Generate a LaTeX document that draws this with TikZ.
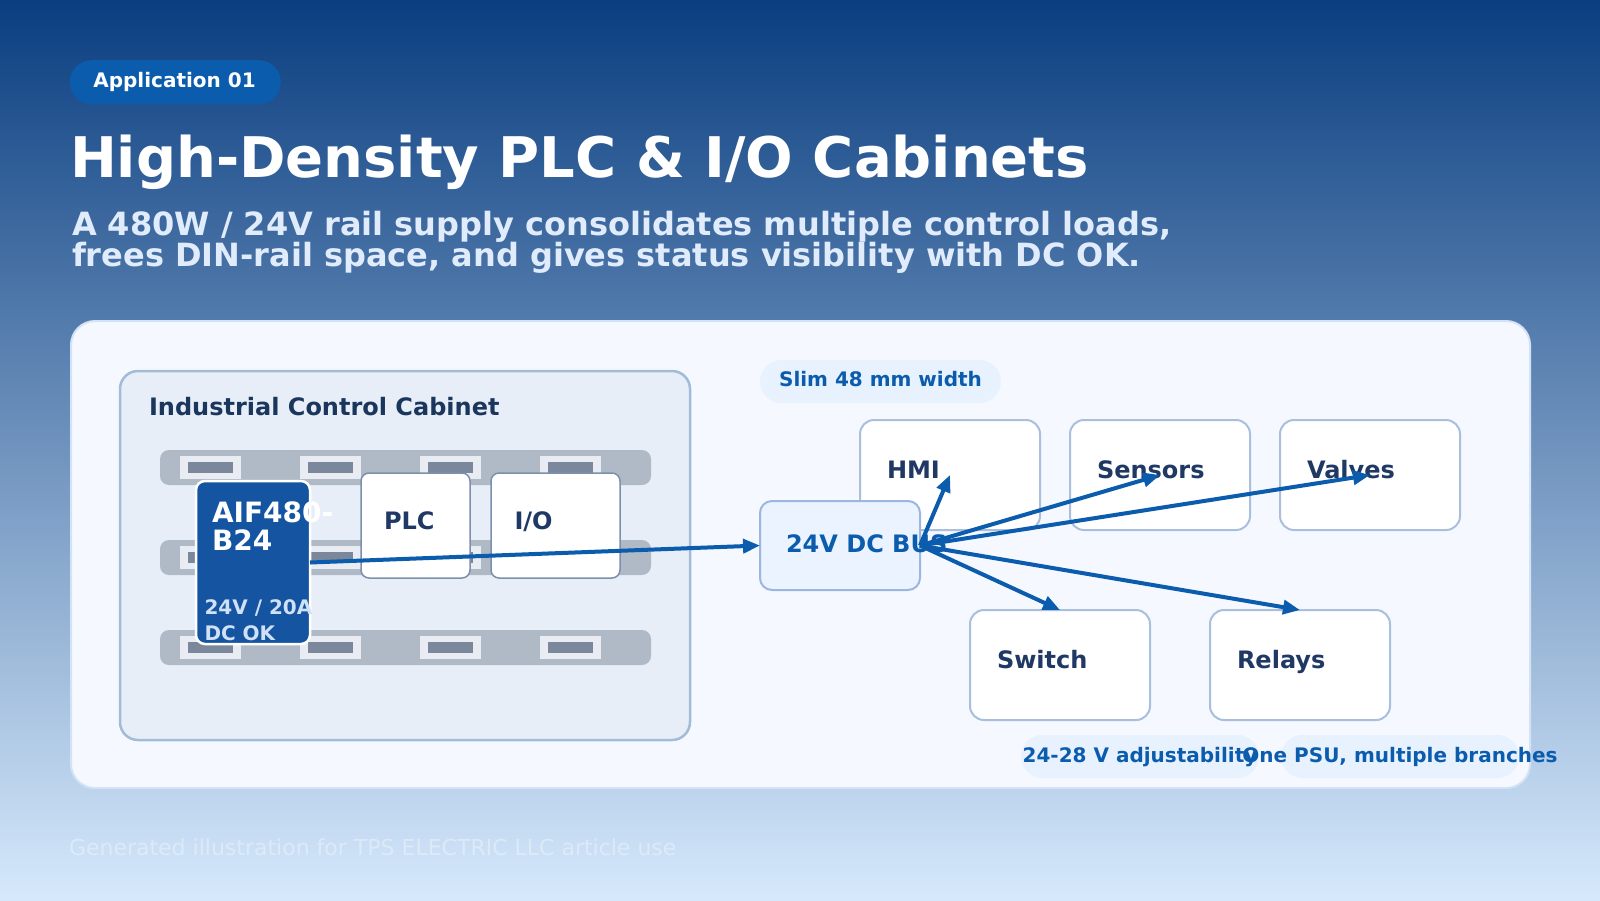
\documentclass[tikz,border=0pt]{standalone}
\usepackage{fontspec}
\setmainfont{DejaVu Sans}
\usetikzlibrary{arrows.meta}
\definecolor{bgtop}{HTML}{0A3E80}
\definecolor{bgbot}{HTML}{D6E9FC}
\definecolor{accent}{HTML}{0B5CAD}
\definecolor{navy}{HTML}{1F3864}
\definecolor{cabnavy}{HTML}{1B365D}
\definecolor{subtxt}{HTML}{E0ECFB}
\definecolor{panelfill}{HTML}{F5F9FF}
\definecolor{panelline}{HTML}{D3E2F5}
\definecolor{cabfill}{HTML}{E7EEF8}
\definecolor{cabline}{HTML}{A2BBD8}
\definecolor{railfill}{HTML}{B0BAC6}
\definecolor{slotout}{HTML}{E9EDF3}
\definecolor{slotin}{HTML}{7B879B}
\definecolor{psufill}{HTML}{1454A0}
\definecolor{psulight}{HTML}{CFE0F7}
\definecolor{modline}{HTML}{7D8FAE}
\definecolor{loadline}{HTML}{A9BFDD}
\definecolor{busfill}{HTML}{EAF3FF}
\definecolor{busline}{HTML}{9BB7DF}
\definecolor{pillfill}{HTML}{E8F1FE}
\begin{document}
\begin{tikzpicture}[x=1pt,y=-1pt,
  every node/.style={inner sep=0pt, outer sep=0pt},
  txt/.style={anchor=base west},
  boxlabel/.style={anchor=base west, text=navy, font=\fontsize{24}{28}\selectfont\bfseries},
  rail/.style={fill=railfill, rounded corners=9pt, minimum width=491pt, minimum height=35pt},
  slotouter/.style={fill=slotout, minimum width=61pt, minimum height=23pt},
  slotinner/.style={fill=slotin, minimum width=45pt, minimum height=11pt},
  module/.style={fill=white, draw=modline, line width=1.5pt, rounded corners=8pt, minimum height=105pt},
  load/.style={fill=white, draw=loadline, line width=2pt, rounded corners=14pt, minimum width=180pt, minimum height=110pt},
  tagpill/.style={fill=pillfill, rounded corners=21.5pt, minimum height=43pt},
  pilltext/.style={anchor=base, text=accent, font=\fontsize{20}{24}\selectfont\bfseries},
  feed/.style={draw=accent, line width=4pt, -{Triangle[length=17pt,width=14pt]}}
]
\useasboundingbox (0,0) rectangle (1600,900);
\shade[top color=bgtop, bottom color=bgbot] (0,0) rectangle (1600,900);

% header
\node[fill=accent, rounded corners=22pt, minimum width=211pt, minimum height=44pt] (apppill) at (175.3,82.2) {};
\node[anchor=base, text=white, font=\fontsize{20}{24}\selectfont\bfseries] (apptext) at (174.5,87.3) {Application 01};
\node[txt, text=white, font=\fontsize{56}{60}\selectfont\bfseries] (title) at (70,177.5) {High-Density PLC \& I/O Cabinets};
\node[txt, text=subtxt, font=\fontsize{32}{34}\selectfont\bfseries] (sub1) at (72,235) {A 480W / 24V rail supply consolidates multiple control loads,};
\node[txt, text=subtxt, font=\fontsize{32}{34}\selectfont\bfseries] (sub2) at (72,266) {frees DIN-rail space, and gives status visibility with DC OK.};

% panel
\node[fill=panelfill, draw=panelline, line width=2pt, rounded corners=24pt, minimum width=1459pt, minimum height=467pt] (panel) at (800.5,554.5) {};

% cabinet
\node[fill=cabfill, draw=cabline, line width=2.5pt, rounded corners=18pt, minimum width=570pt, minimum height=369pt] (cabinet) at (405,555.5) {};
\node[txt, text=cabnavy, font=\fontsize{24}{28}\selectfont\bfseries] (cabtitle) at (149,415) {Industrial Control Cabinet};

% rails and slots
\foreach \ry [count=\r] in {467.5,557.5,647.5}{
  \node[rail] (rail\r) at (405.5,\ry) {};
  \foreach \sx [count=\s] in {210.5,330.5,450.5,570.5}{
    \node[slotouter] (slotA\r\s) at (\sx,\ry) {};
    \node[slotinner] (slotB\r\s) at (\sx,\ry) {};
  }
}

% PSU
\node[fill=psufill, draw=white, line width=2.5pt, rounded corners=9pt, minimum width=114pt, minimum height=163pt] (psu) at (253,562.5) {};
\node[txt, text=white, font=\fontsize{28}{30}\selectfont\bfseries] (psu1) at (212,522.7) {AIF480-};
\node[txt, text=white, font=\fontsize{28}{30}\selectfont\bfseries] (psu2) at (212,550) {B24};
\node[txt, text=psulight, font=\fontsize{20}{24}\selectfont\bfseries] (psu3) at (204.5,614) {24V / 20A};
\node[txt, text=psulight, font=\fontsize{20}{24}\selectfont\bfseries] (psu4) at (204.5,640) {DC OK};

% modules
\node[module, minimum width=109pt] (plc) at (415.5,525.5) {};
\node[boxlabel] (plcl) at (384,529) {PLC};
\node[module, minimum width=129pt] (io) at (555.5,525.5) {};
\node[boxlabel] (iol) at (514.5,529) {I/O};

% slim pill
\node[tagpill, minimum width=241pt] (slim) at (880.5,381.5) {};
\node[pilltext] (slimt) at (880.5,386.8) {Slim 48 mm width};

% loads
\node[load] (hmi) at (950,475) {};
\node[boxlabel] (hmil) at (887,478) {HMI};
\node[load] (sens) at (1160,475) {};
\node[boxlabel] (sensl) at (1097,478) {Sensors};
\node[load] (valv) at (1370,475) {};
\node[boxlabel] (valvl) at (1307,478) {Valves};
\node[load] (sw) at (1060,665) {};
\node[boxlabel] (swl) at (997,668) {Switch};
\node[load] (rel) at (1300,665) {};
\node[boxlabel] (rell) at (1237,668) {Relays};

% bus
\node[fill=busfill, draw=busline, line width=2pt, rounded corners=12pt, minimum width=160pt, minimum height=89pt] (bus) at (840,545.5) {};
\node[txt, text=accent, font=\fontsize{24}{28}\selectfont\bfseries] (busl) at (786,552.7) {24V DC BUS};

% bottom pills
\node[tagpill, minimum width=238pt] (adj) at (1140,756.4) {};
\node[tagpill, minimum width=238pt] (one) at (1400,756.4) {};
\node[pilltext] (adjt) at (1140,762) {24-28 V adjustability};
\node[pilltext] (onet) at (1400,762) {One PSU, multiple branches};

% connectors
\draw[feed] (psu.east) -- (bus.west);
\draw[feed] (bus.east) -- (hmi.center);
\draw[feed] (bus.east) -- (sens.center);
\draw[feed] (bus.east) -- (valv.center);
\draw[feed] (bus.east) -- (sw.north);
\draw[feed] (bus.east) -- (rel.north);

% footer
\node[txt, text=white, opacity=0.35, font=\fontsize{22}{26}\selectfont] (footer) at (69,855.7) {Generated illustration for TPS ELECTRIC LLC article use};
\end{tikzpicture}
\end{document}
